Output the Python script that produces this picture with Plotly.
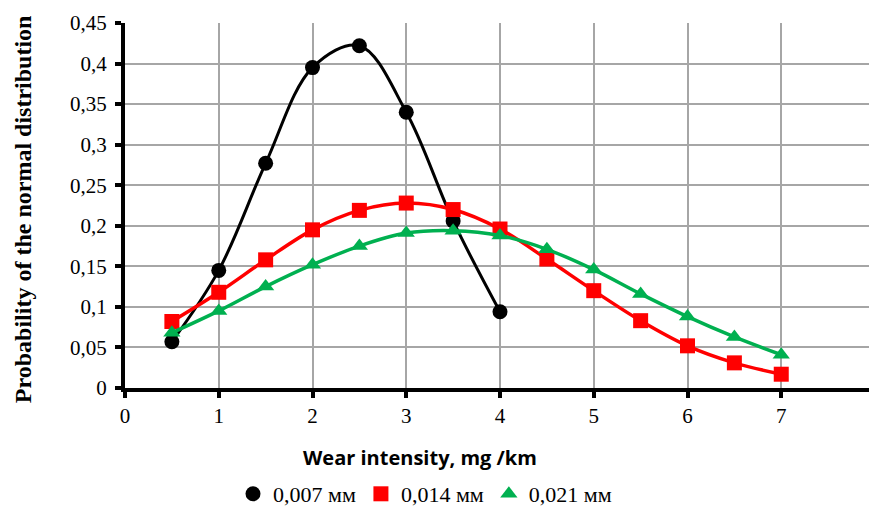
import plotly.graph_objects as go

x_black = [0.5, 1, 1.5, 2, 2.5, 3, 3.5, 4]
y_black = [0.057, 0.145, 0.277, 0.395, 0.422, 0.340, 0.206, 0.094]

x_red = [0.5, 1, 1.5, 2, 2.5, 3, 3.5, 4, 4.5, 5, 5.5, 6, 6.5, 7]
y_red = [0.082, 0.118, 0.158, 0.195, 0.219, 0.228, 0.220, 0.196, 0.159, 0.120, 0.083, 0.052, 0.031, 0.017]

x_green = [0.5, 1, 1.5, 2, 2.5, 3, 3.5, 4, 4.5, 5, 5.5, 6, 6.5, 7]
y_green = [0.068, 0.095, 0.125, 0.152, 0.175, 0.191, 0.194, 0.188, 0.171, 0.146, 0.116, 0.088, 0.063, 0.041]

names = ["0,007 мм", "0,014 мм", "0,021 мм"]
colors = ["black", "#ff0000", "#00b050"]
symbols = ["circle", "square", "triangle-up"]
xs = [x_black, x_red, x_green]
ys = [y_black, y_red, y_green]
widths = [3, 3.5, 3.5]

W, H = 869, 501
L, R, T, B = 117, 2, 15, 121

fig = go.Figure()
for xv, yv, c, s, w in zip(xs, ys, colors, symbols, widths):
    fig.add_trace(go.Scatter(x=xv, y=yv, mode="lines+markers", showlegend=False,
                             line=dict(color=c, width=w, shape="spline", smoothing=1),
                             marker=dict(symbol=s, size=15, color=c)))
# legend entries (markers only, as in the reference)
for n, c, s in zip(names, colors, symbols):
    fig.add_trace(go.Scatter(x=[None], y=[None], mode="markers", name=n,
                             marker=dict(symbol=s, size=15, color=c)))

fig.update_layout(
    width=W, height=H,
    margin=dict(l=L, r=R, t=T, b=B),
    paper_bgcolor="white", plot_bgcolor="white",
    separators=", ",
    font=dict(family="Liberation Serif", size=21, color="black"),
    legend=dict(orientation="h", xref="container", yref="container",
                x=(425 - 8) / W, xanchor="center", y=1 - (494 - 8) / H, yanchor="middle",
                font=dict(family="Liberation Serif", size=22), itemwidth=30,
                tracegroupgap=0),
    showlegend=True,
    annotations=[
        dict(text="<b>Wear intensity, mg /km</b>", xref="paper", yref="paper",
             x=(420 - 125) / 750, y=-69 / 365, xanchor="center", yanchor="middle",
             showarrow=False, font=dict(family="Open Sans", size=20, color="black")),
        dict(text="<b>Probability of the normal distribution</b>", xref="paper", yref="paper",
             x=-(125 - 23) / 750, y=0.49, xanchor="center", yanchor="middle", textangle=-90,
             showarrow=False, font=dict(family="Liberation Serif", size=24, color="black")),
    ],
)
fig.update_xaxes(range=[0, 8], dtick=1, tick0=0,
                 showline=True, linecolor="black", linewidth=4,
                 ticks="outside", ticklen=6, tickwidth=4, tickcolor="black",
                 ticklabelstandoff=0, ticklabeloverflow="allow",
                 showgrid=True, gridcolor="#a6a6a6", gridwidth=2,
                 zeroline=False, automargin=False)
fig.update_yaxes(range=[0, 0.45], dtick=0.05, tick0=0,
                 showline=True, linecolor="black", linewidth=4,
                 ticks="outside", ticklen=6, tickwidth=4, tickcolor="black",
                 ticklabelstandoff=4,
                 showgrid=True, gridcolor="#a6a6a6", gridwidth=2,
                 zeroline=False, automargin=False)

fig.write_html("out.html")
